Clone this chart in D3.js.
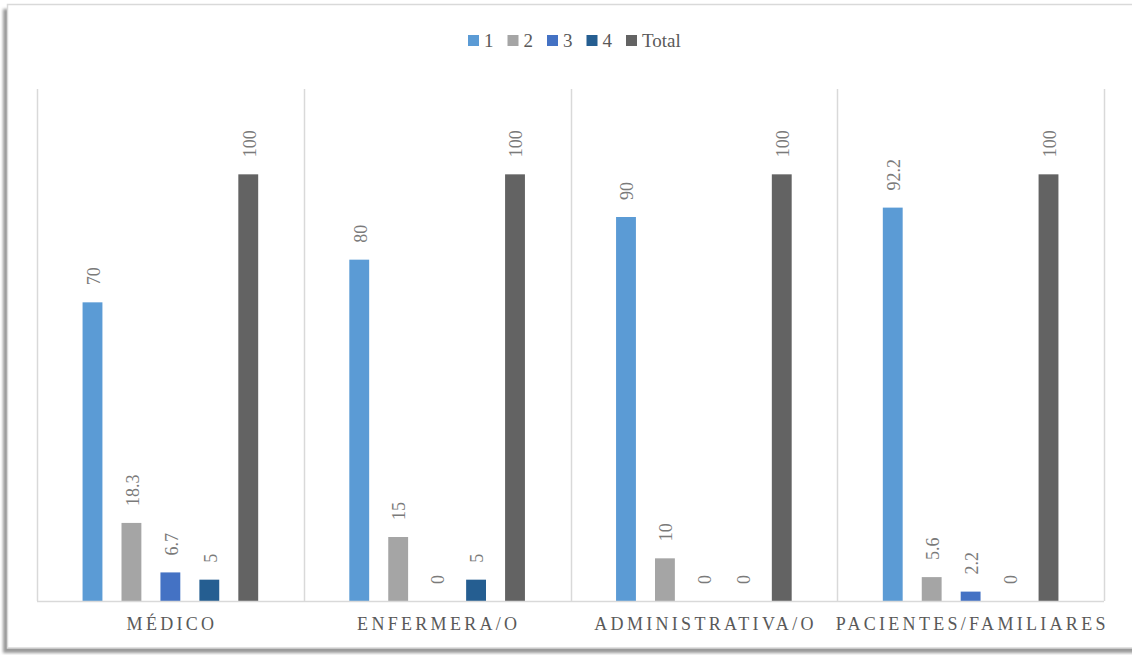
<!DOCTYPE html>
<html>
<head>
<meta charset="utf-8">
<script src="https://cdn.jsdelivr.net/npm/d3@7"></script>
<style>
  html, body { margin: 0; padding: 0; background: #fff; }
  svg { display: block; }
</style>
</head>
<body>
<svg id="chart" width="1132" height="655"></svg>
<script>
const categories = ["MÉDICO", "ENFERMERA/O", "ADMINISTRATIVA/O", "PACIENTES/FAMILIARES"];
const seriesNames = ["1", "2", "3", "4", "Total"];
const series1 = [70, 80, 90, 92.2];
const series2 = [18.3, 15, 10, 5.6];
const series3 = [6.7, 0, 0, 2.2];
const series4 = [5, 5, 0, 0];
const seriesTotal = [100, 100, 100, 100];
const colors = ["#5B9BD5", "#A5A5A5", "#4472C4", "#255E91", "#636363"];

const allSeries = [series1, series2, series3, series4, seriesTotal];
const FONT = "'Liberation Serif', 'Times New Roman', 'DejaVu Serif', serif";

const svg = d3.select("#chart").attr("font-family", FONT);

// shadow + frame
const defs = svg.append("defs");
const f = defs.append("filter").attr("id", "sh").attr("x", "-5%").attr("y", "-5%").attr("width", "110%").attr("height", "110%");
f.append("feGaussianBlur").attr("stdDeviation", 1.6);
svg.append("rect").attr("x", 3).attr("y", 9).attr("width", 1160).attr("height", 644)
  .attr("fill", "#9a9a9a").attr("filter", "url(#sh)");
svg.append("rect").attr("x", 7.5).attr("y", 4.5).attr("width", 1160).attr("height", 643.5)
  .attr("fill", "#fff").attr("stroke", "#d9d9d9").attr("stroke-width", 1.5);

const plot = { left: 37, right: 1104, top: 89, bottom: 601 };

const x0 = d3.scaleBand().domain(categories).range([plot.left, plot.right]).paddingInner(0).paddingOuter(0);
const x1 = d3.scaleBand().domain(seriesNames).range([0, x0.bandwidth()]).paddingInner(0.49).paddingOuter(1.17);
const y = d3.scaleLinear().domain([0, 120]).range([plot.bottom, plot.top]);

// separators
const seps = categories.map(c => x0(c)).concat([plot.right]);
svg.append("g").selectAll("line").data(seps).join("line")
  .attr("x1", d => Math.round(d) + 0.5).attr("x2", d => Math.round(d) + 0.5)
  .attr("y1", plot.top).attr("y2", plot.bottom)
  .attr("stroke", "#d9d9d9").attr("stroke-width", 1.5);

// bars
const rows = [];
categories.forEach((c, i) => {
  seriesNames.forEach((s, j) => {
    rows.push({ cat: c, ser: s, v: allSeries[j][i], color: colors[j] });
  });
});

svg.append("g").selectAll("rect").data(rows).join("rect")
  .attr("x", d => x0(d.cat) + x1(d.ser))
  .attr("y", d => y(d.v))
  .attr("width", x1.bandwidth())
  .attr("height", d => y(0) - y(d.v))
  .attr("fill", d => d.color);

// baseline
svg.append("line").attr("x1", plot.left).attr("x2", plot.right)
  .attr("y1", plot.bottom + 0.5).attr("y2", plot.bottom + 0.5)
  .attr("stroke", "#d9d9d9").attr("stroke-width", 1.5);

// value labels
svg.append("g").selectAll("text").data(rows).join("text")
  .attr("transform", d => {
    const cx = x0(d.cat) + x1(d.ser) + x1.bandwidth() / 2;
    return `translate(${cx + 1},${y(d.v) - 17}) rotate(-90)`;
  })
  .attr("dy", "0.35em")
  .attr("text-anchor", "start")
  .attr("font-family", FONT)
  .attr("font-size", 18)
  .attr("fill", "#7a7a7a")
  .text(d => d.v);

// category labels (kept inside the frame like the original)
const LS = 3.3;
const catG = svg.append("g");
categories.forEach(c => {
  const t = catG.append("text")
    .attr("y", 630)
    .attr("text-anchor", "start")
    .attr("font-family", FONT)
    .attr("font-size", 18)
    .attr("letter-spacing", LS + "px")
    .attr("fill", "#595959")
    .text(c);
  const w = t.node().getComputedTextLength() - LS;
  let left = x0(c) + x0.bandwidth() / 2 - w / 2;
  if (left + w > 1108) left = 1108 - w;
  t.attr("x", left);
});

// legend
const legend = svg.append("g");
let lx = 468;
seriesNames.forEach((s, j) => {
  const g = legend.append("g").attr("transform", `translate(${lx},0)`);
  g.append("rect").attr("x", 0).attr("y", 35).attr("width", 11).attr("height", 11).attr("fill", colors[j]);
  const t = g.append("text").attr("x", 16).attr("y", 47).attr("font-family", FONT)
    .attr("font-size", 19).attr("fill", "#595959").text(s);
  const w = t.node().getComputedTextLength();
  lx += 16 + w + 14;
});
</script>
</body>
</html>
